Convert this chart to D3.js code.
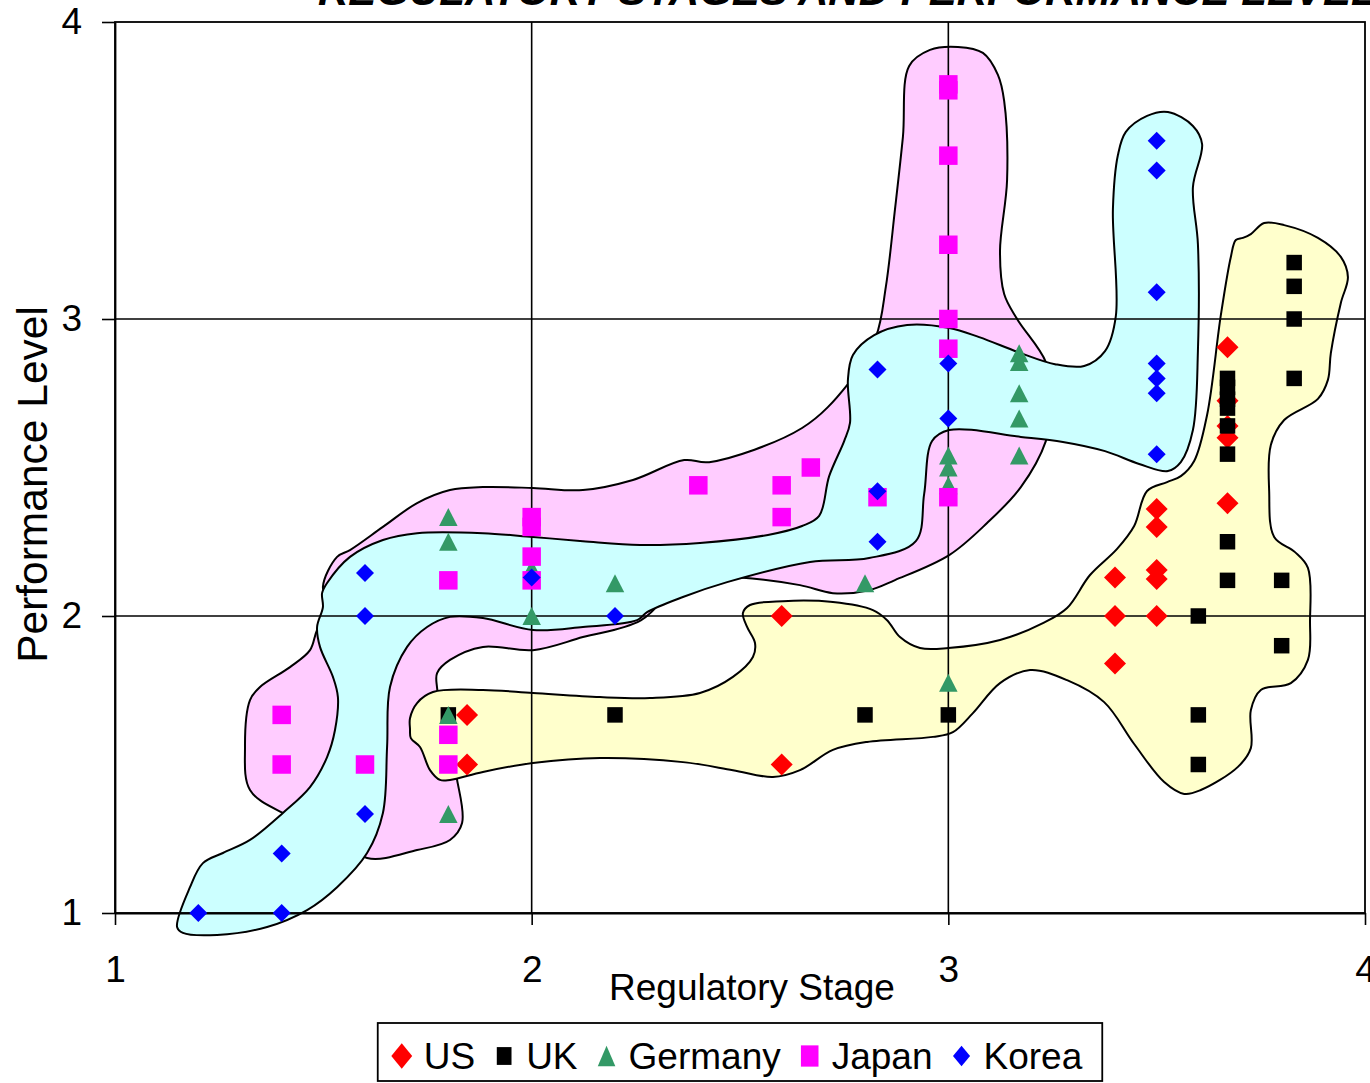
<!DOCTYPE html>
<html>
<head>
<meta charset="utf-8">
<script src="https://cdn.jsdelivr.net/npm/d3@7"></script>
<style>
  html, body { margin: 0; padding: 0; background: #ffffff; }
  svg { display: block; font-family: "Liberation Sans", Arial, sans-serif; }
</style>
</head>
<body>
<svg id="chart" width="1370" height="1083"></svg>
<script>
// ---- data: [regulatory stage, performance level] ----
const seriesNames = ["US", "UK", "Germany", "Japan", "Korea"];

const usPoints = [
  [1.845, 1.667], [1.845, 1.5], [2.6, 2.0], [2.6, 1.5],
  [3.4, 2.13], [3.4, 2.0], [3.4, 1.84],
  [3.5, 2.36], [3.5, 2.3], [3.5, 2.155], [3.5, 2.125], [3.5, 2.0],
  [3.67, 2.905], [3.67, 2.725], [3.67, 2.64], [3.67, 2.6], [3.67, 2.38]
];

const ukPoints = [
  [1.8, 1.667], [1.8, 1.5], [2.2, 1.667], [2.8, 1.667], [3.0, 1.667],
  [3.6, 2.0], [3.6, 1.667], [3.6, 1.5],
  [3.67, 2.8], [3.67, 2.77], [3.67, 2.73], [3.67, 2.7], [3.67, 2.64],
  [3.67, 2.545], [3.67, 2.25], [3.67, 2.12],
  [3.83, 3.19], [3.83, 3.11], [3.83, 3.0], [3.83, 2.8],
  [3.8, 2.12], [3.8, 1.9]
];

const germanyPoints = [
  [1.8, 2.333], [1.8, 2.25], [1.8, 1.667], [1.8, 1.333],
  [2.0, 2.0], [2.0, 2.16], [2.2, 2.11], [2.8, 2.11],
  [3.0, 1.775], [3.0, 2.54], [3.0, 2.5], [3.0, 2.44],
  [3.17, 2.885], [3.17, 2.855], [3.17, 2.75], [3.17, 2.665], [3.17, 2.54]
];

const japanPoints = [
  [1.4, 1.667], [1.4, 1.5], [1.6, 1.5],
  [1.8, 2.12], [1.8, 1.6], [1.8, 1.5],
  [2.0, 2.12], [2.0, 2.2], [2.0, 2.3], [2.0, 2.333],
  [2.4, 2.44], [2.6, 2.44], [2.6, 2.333], [2.67, 2.5], [2.83, 2.4],
  [3.0, 2.4], [3.0, 2.9], [3.0, 3.0], [3.0, 3.25], [3.0, 3.55], [3.0, 3.77], [3.0, 3.79]
];

const koreaPoints = [
  [1.2, 1.0], [1.4, 1.0], [1.4, 1.2], [1.6, 1.333], [1.6, 2.0], [1.6, 2.145],
  [2.0, 2.13], [2.2, 2.0],
  [2.83, 2.25], [2.83, 2.42], [2.83, 2.83],
  [3.0, 2.85], [3.0, 2.665],
  [3.5, 3.6], [3.5, 3.5], [3.5, 3.09], [3.5, 2.85], [3.5, 2.8], [3.5, 2.75], [3.5, 2.545]
];

const xTickValues = [1, 2, 3, 4];
const yTickValues = [1, 2, 3, 4];

// ---- hand-drawn grouping outlines, in data units ----
const japanRegion = [
  [2.906, 3.852], [2.956, 3.906], [3.023, 3.916], [3.083, 3.896], [3.119, 3.822],
  [3.134, 3.734], [3.141, 3.468], [3.124, 3.229], [3.134, 3.084], [3.165, 3.000],
  [3.234, 2.855], [3.249, 2.727], [3.234, 2.589], [3.174, 2.434], [3.093, 2.313],
  [3.002, 2.205], [2.872, 2.121], [2.810, 2.087], [2.723, 2.077], [2.644, 2.104],
  [2.500, 2.130], [2.380, 2.135], [2.262, 1.985], [2.123, 1.929], [2.003, 1.885],
  [1.883, 1.896], [1.804, 1.852], [1.773, 1.808], [1.773, 1.758], [1.792, 1.616],
  [1.821, 1.448], [1.833, 1.303], [1.804, 1.246], [1.725, 1.212], [1.605, 1.185],
  [1.516, 1.279], [1.403, 1.337], [1.324, 1.414], [1.312, 1.559], [1.324, 1.717],
  [1.348, 1.761], [1.420, 1.828], [1.468, 1.885], [1.485, 1.953], [1.516, 2.027],
  [1.499, 2.098], [1.533, 2.199], [1.564, 2.222], [1.643, 2.300], [1.725, 2.380],
  [1.804, 2.424], [1.883, 2.434], [2.003, 2.431], [2.123, 2.424], [2.243, 2.458],
  [2.366, 2.525], [2.426, 2.518], [2.649, 2.633], [2.759, 2.781], [2.826, 2.939],
  [2.850, 3.108], [2.872, 3.370], [2.891, 3.613]
];

const koreaRegion = [
  [1.149, 0.953], [1.163, 0.933], [1.245, 0.926], [1.365, 0.953], [1.461, 1.010],
  [1.533, 1.087], [1.605, 1.202], [1.643, 1.337], [1.653, 1.559], [1.660, 1.761],
  [1.701, 1.896], [1.749, 1.963], [1.804, 1.997], [1.883, 1.993], [2.003, 1.953],
  [2.123, 1.963], [2.253, 1.986], [2.277, 2.013], [2.363, 2.064], [2.469, 2.114],
  [2.668, 2.182], [2.810, 2.195], [2.922, 2.252], [2.942, 2.411], [2.961, 2.589],
  [3.002, 2.626], [3.174, 2.603], [3.275, 2.586], [3.376, 2.555], [3.458, 2.512],
  [3.527, 2.488], [3.558, 2.518], [3.587, 2.626], [3.599, 2.892], [3.599, 3.252],
  [3.587, 3.444], [3.609, 3.589], [3.587, 3.650], [3.527, 3.697], [3.477, 3.684],
  [3.426, 3.630], [3.407, 3.552], [3.395, 3.370], [3.402, 3.010], [3.376, 2.892],
  [3.326, 2.842], [3.256, 2.848], [3.174, 2.885], [3.074, 2.939], [3.002, 2.970],
  [2.901, 2.980], [2.822, 2.946], [2.771, 2.879], [2.759, 2.795], [2.764, 2.650],
  [2.750, 2.589], [2.714, 2.471], [2.690, 2.337], [2.649, 2.303], [2.567, 2.273],
  [2.404, 2.246], [2.260, 2.239], [2.123, 2.252], [2.003, 2.266], [1.883, 2.279],
  [1.725, 2.279], [1.643, 2.256], [1.564, 2.199], [1.509, 2.111], [1.497, 2.077],
  [1.499, 2.030], [1.485, 1.963], [1.492, 1.896], [1.523, 1.795], [1.535, 1.727],
  [1.528, 1.616], [1.509, 1.525], [1.468, 1.424], [1.403, 1.337], [1.324, 1.246],
  [1.259, 1.202], [1.211, 1.168], [1.180, 1.087]
];

const usUkRegion = [
  [1.708, 1.656], [1.725, 1.707], [1.763, 1.744], [1.883, 1.751], [2.003, 1.741],
  [2.164, 1.727], [2.284, 1.724], [2.404, 1.741], [2.483, 1.795], [2.531, 1.862],
  [2.536, 1.909], [2.517, 1.963], [2.507, 2.010], [2.524, 2.037], [2.603, 2.050],
  [2.723, 2.047], [2.819, 2.020], [2.853, 1.986], [2.884, 1.929], [2.932, 1.892],
  [3.000, 1.892], [3.124, 1.919], [3.227, 1.976], [3.285, 2.027], [3.340, 2.138],
  [3.405, 2.226], [3.446, 2.303], [3.477, 2.421], [3.525, 2.451], [3.558, 2.471],
  [3.590, 2.522], [3.621, 2.677], [3.654, 3.013], [3.678, 3.209], [3.690, 3.266],
  [3.707, 3.273], [3.726, 3.286], [3.758, 3.323], [3.806, 3.316], [3.887, 3.273],
  [3.942, 3.209], [3.959, 3.141], [3.942, 3.054], [3.918, 2.885], [3.911, 2.795],
  [3.887, 2.731], [3.806, 2.660], [3.774, 2.576], [3.770, 2.421], [3.782, 2.266],
  [3.832, 2.215], [3.863, 2.162], [3.868, 1.983], [3.863, 1.852], [3.822, 1.774],
  [3.750, 1.751], [3.726, 1.683], [3.726, 1.555], [3.695, 1.492], [3.606, 1.414],
  [3.566, 1.401], [3.518, 1.441], [3.446, 1.569], [3.374, 1.710], [3.285, 1.784],
  [3.196, 1.818], [3.124, 1.774], [3.059, 1.673], [3.011, 1.609], [2.963, 1.593],
  [2.805, 1.576], [2.723, 1.549], [2.644, 1.481], [2.579, 1.458], [2.483, 1.481],
  [2.363, 1.508], [2.164, 1.522], [2.003, 1.505], [1.883, 1.475], [1.804, 1.448],
  [1.780, 1.448], [1.756, 1.481], [1.732, 1.559], [1.710, 1.589], [1.708, 1.620]
];

// ---- layout ----
const svg = d3.select("#chart");
const plot = { left: 115, right: 1365, top: 22, bottom: 913 };

const x = d3.scaleLinear().domain([1, 4]).range([plot.left, plot.right]);
const y = d3.scaleLinear().domain([1, 4]).range([plot.bottom, plot.top]);

// marker shapes: w = width, h = height
function markerPath(shape, w, h) {
  const a = w / 2, b = h / 2;
  if (shape === "diamond") return `M0,${-b}L${a},0L0,${b}L${-a},0Z`;
  if (shape === "square") return `M${-a},${-b}H${a}V${b}H${-a}Z`;
  // triangle
  return `M0,${-b}L${a},${b}L${-a},${b}Z`;
}

const series = [
  { name: seriesNames[0], points: usPoints,      color: "#ff0000", shape: "diamond",  w: 22, h: 22 },
  { name: seriesNames[1], points: ukPoints,      color: "#000000", shape: "square",   w: 15.5, h: 15.5 },
  { name: seriesNames[2], points: germanyPoints, color: "#339966", shape: "triangle", w: 18.5, h: 18 },
  { name: seriesNames[3], points: japanPoints,   color: "#ff00ff", shape: "square",   w: 18.5, h: 18.5 },
  { name: seriesNames[4], points: koreaPoints,   color: "#0000ff", shape: "diamond",  w: 18, h: 18 }
];

// ---- shaded regions ----
const outline = d3.line()
  .x(d => x(d[0]))
  .y(d => y(d[1]))
  .curve(d3.curveCatmullRomClosed.alpha(0.5));

const regions = [
  { pts: japanRegion, fill: "#ffccff" },
  { pts: koreaRegion, fill: "#ccffff" },
  { pts: usUkRegion,  fill: "#ffffcc" }
];

svg.append("g").attr("class", "regions")
  .selectAll("path")
  .data(regions)
  .join("path")
  .attr("d", d => outline(d.pts))
  .attr("fill", d => d.fill)
  .attr("stroke", "#000")
  .attr("stroke-width", 2)
  .attr("stroke-linejoin", "round");

// ---- gridlines ----
const grid = svg.append("g").attr("class", "grid")
  .attr("stroke", "#000").attr("stroke-width", 1.6);
grid.selectAll("line.v")
  .data(xTickValues.slice(1, -1))
  .join("line").attr("class", "v")
  .attr("x1", d => x(d)).attr("x2", d => x(d))
  .attr("y1", plot.top).attr("y2", plot.bottom);
grid.selectAll("line.h")
  .data(yTickValues.slice(1, -1))
  .join("line").attr("class", "h")
  .attr("x1", plot.left).attr("x2", plot.right)
  .attr("y1", d => y(d)).attr("y2", d => y(d));

// plot frame
svg.append("rect")
  .attr("x", plot.left).attr("y", plot.top)
  .attr("width", plot.right - plot.left)
  .attr("height", plot.bottom - plot.top)
  .attr("fill", "none").attr("stroke", "#000").attr("stroke-width", 1.8);

// ---- axes ----
const xAxis = svg.append("g")
  .attr("transform", `translate(0,${plot.bottom})`)
  .call(d3.axisBottom(x).tickValues(xTickValues).tickFormat(d3.format("d"))
    .tickSize(12).tickSizeOuter(0).tickPadding(31));
const yAxis = svg.append("g")
  .attr("transform", `translate(${plot.left},0)`)
  .call(d3.axisLeft(y).tickValues(yTickValues).tickFormat(d3.format("d"))
    .tickSize(13).tickSizeOuter(0).tickPadding(20));

[xAxis, yAxis].forEach(g => {
  g.select(".domain").attr("stroke", "#000").attr("stroke-width", 1.8);
  g.selectAll(".tick line").attr("stroke", "#000").attr("stroke-width", 1.6);
  g.selectAll(".tick text")
    .attr("fill", "#000")
    .style("font-family", "'Liberation Sans', Arial, sans-serif")
    .style("font-size", "37px");
});

// ---- axis titles ----
svg.append("text")
  .attr("x", 752).attr("y", 1000)
  .attr("text-anchor", "middle")
  .style("font-size", "37px")
  .text("Regulatory Stage");

svg.append("text")
  .attr("transform", `translate(47,${(plot.top + plot.bottom) / 2 + 17}) rotate(-90)`)
  .attr("text-anchor", "middle")
  .style("font-size", "42.5px")
  .text("Performance Level");

// ---- chart title (runs past the top edge) ----
svg.append("text")
  .attr("x", 318).attr("y", 5)
  .style("font-size", "42px")
  .style("font-weight", "bold")
  .style("font-style", "italic")
  .text("REGULATORY STAGES AND PERFORMANCE LEVELS");

// ---- markers ----
svg.append("g").attr("class", "markers")
  .selectAll("g")
  .data(series)
  .join("g")
  .attr("fill", d => d.color)
  .each(function (s) {
    d3.select(this).selectAll("path")
      .data(s.points)
      .join("path")
      .attr("transform", d => `translate(${x(d[0])},${y(d[1])})`)
      .attr("d", markerPath(s.shape, s.w, s.h));
  });

// ---- legend ----
const legend = svg.append("g").attr("class", "legend");
const legendBox = legend.append("rect")
  .attr("fill", "#fff").attr("stroke", "#000").attr("stroke-width", 1.8);
const items = legend.selectAll("g.item")
  .data(series)
  .join("g").attr("class", "item");
items.append("path")
  .attr("fill", d => d.color)
  .attr("d", d => markerPath(d.shape, d.w * 0.95, d.h * 1.15));
items.append("text")
  .attr("x", 22).attr("y", 13)
  .style("font-size", "37px")
  .text(d => d.name);

const itemGap = 29;
let cursor = 0;
items.each(function () {
  const g = d3.select(this);
  const tw = g.select("text").node().getComputedTextLength();
  g.attr("data-x", cursor);
  cursor += 22 + tw + itemGap;
});
const legendWidth = cursor - itemGap + 24 + 20;
const legendLeft = (plot.left + plot.right) / 2 - legendWidth / 2;
legendBox
  .attr("x", legendLeft).attr("y", 1023)
  .attr("width", legendWidth).attr("height", 58);
items.attr("transform", function () {
  return `translate(${legendLeft + 24 + (+this.getAttribute("data-x"))},1056)`;
});
</script>
</body>
</html>
